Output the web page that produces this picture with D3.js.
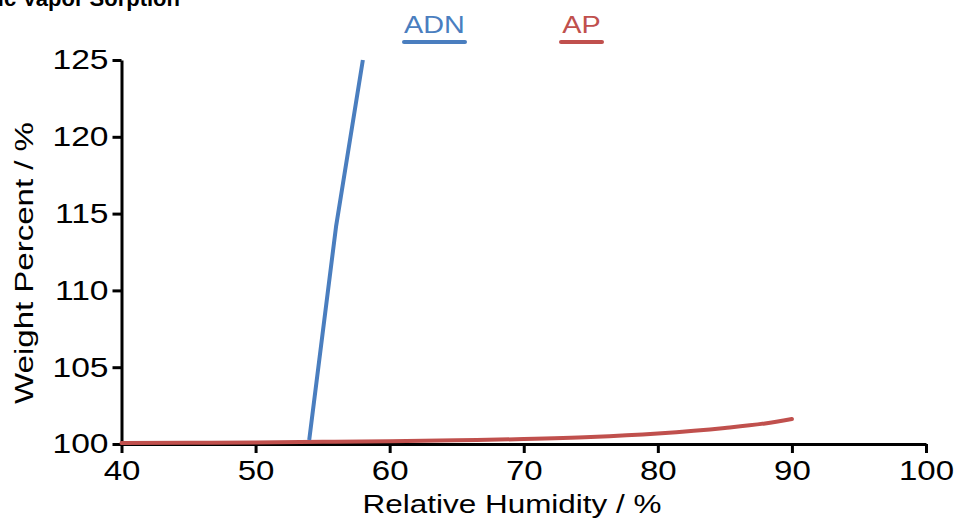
<!DOCTYPE html>
<html lang="en">
<head>
    <meta charset="UTF-8">
    <title>Vapor Sorption</title>
    <script src="https://d3js.org/d3.v7.min.js"></script>
    <style>
        body { margin: 0; background: #fff; }
        text { font-family: "Liberation Sans", Arial, sans-serif; }
    </style>
</head>
<body>
<svg id="chart"></svg>

<script>
    // Values
    let adnHumidity = [54, 56, 58];
    let adnWeight = [100.26, 114.15, 125];

    let apHumidity = [40, 45, 50, 55, 60, 65, 70, 75, 80, 85, 88, 90];
    let apWeight = [100.06, 100.08, 100.1, 100.14, 100.18, 100.24, 100.32, 100.45, 100.68, 101.04, 101.34, 101.63];

    let xTicks = [40, 50, 60, 70, 80, 90, 100];
    let yTicks = [100, 105, 110, 115, 120, 125];

    let seriesNames = ["ADN", "AP"];
    let colour = ["#4a7ebf", "#c0504d"];

    let width = 958,
        height = 520;

    let svg = d3.select("#chart")
        .attr("width", width)
        .attr("height", height);

    // Scales
    let x = d3.scaleLinear().domain([40, 100]).range([121.5, 926]);
    let y = d3.scaleLinear().domain([100, 125]).range([444, 60]);

    // Title, cut off at top left as in the source
    svg.append("text")
        .attr("x", 180)
        .attr("y", 6)
        .attr("text-anchor", "end")
        .attr("font-weight", "bold")
        .attr("font-size", 22)
        .attr("fill", "#000")
        .text("Dynamic Vapor Sorption");

    // Axes
    let xAxis = svg.append("g")
        .attr("transform", "translate(0," + y(100) + ")")
        .call(d3.axisBottom(x).tickValues(xTicks).tickSize(9).tickSizeOuter(0).tickPadding(7));

    let yAxis = svg.append("g")
        .attr("transform", "translate(" + x(40) + ",0)")
        .call(d3.axisLeft(y).tickValues(yTicks).tickSize(9).tickSizeOuter(0).tickPadding(4));

    [xAxis, yAxis].forEach(function (ax) {
        ax.select(".domain").attr("stroke", "#000").attr("stroke-width", 3);
        ax.selectAll(".tick line").attr("stroke", "#000").attr("stroke-width", 3);
        ax.selectAll(".tick text")
            .attr("font-size", 28)
            .attr("fill", "#000")
            .attr("font-family", "'Liberation Sans', Arial, sans-serif");
    });

    // stretch tick labels a little, the source font is wider than Arial
    xAxis.selectAll(".tick text").each(function () {
        let t = d3.select(this);
        let ty = +t.attr("y");
        t.attr("y", 0).attr("transform", "translate(0," + ty + ") scale(1.18,1)");
    });
    yAxis.selectAll(".tick text").each(function () {
        let t = d3.select(this);
        let tx = +t.attr("x");
        t.attr("x", 0).attr("transform", "translate(" + tx + ",0) scale(1.2,1)");
    });

    // Lines
    let adn = adnHumidity.map(function (d, i) { return [d, adnWeight[i]]; });
    let ap = apHumidity.map(function (d, i) { return [d, apWeight[i]]; });

    let lineLinear = d3.line()
        .x(function (d) { return x(d[0]); })
        .y(function (d) { return y(d[1]); });

    let lineSmooth = d3.line()
        .curve(d3.curveMonotoneX)
        .x(function (d) { return x(d[0]); })
        .y(function (d) { return y(d[1]); });

    svg.append("path")
        .attr("d", lineSmooth(ap))
        .attr("fill", "none")
        .attr("stroke", colour[1])
        .attr("stroke-width", 4)
        .attr("stroke-linecap", "round");

    svg.append("path")
        .attr("d", lineLinear(adn))
        .attr("fill", "none")
        .attr("stroke", colour[0])
        .attr("stroke-width", 4)
        .attr("stroke-linejoin", "round");

    // Axis titles
    svg.append("text")
        .attr("transform", "translate(512,513) scale(1.21,1)")
        .attr("text-anchor", "middle")
        .attr("font-size", 26)
        .attr("fill", "#000")
        .text("Relative Humidity / %");

    svg.append("text")
        .attr("transform", "translate(33,263) rotate(-90) scale(1.27,1)")
        .attr("text-anchor", "middle")
        .attr("font-size", 26)
        .attr("fill", "#000")
        .text("Weight Percent / %");

    // Legend: coloured label with an underline
    let legendX = [434.5, 581.5];
    let legendW = [65, 45];

    let legend = svg.selectAll(".legend")
        .data(seriesNames)
        .enter().append("g")
        .attr("class", "legend")
        .attr("transform", function (d, i) { return "translate(" + legendX[i] + ",0)"; });

    legend.append("text")
        .attr("transform", "translate(0,33) scale(1.2,1)")
        .attr("text-anchor", "middle")
        .attr("font-size", 24)
        .attr("fill", function (d, i) { return colour[i]; })
        .text(function (d) { return d; });

    legend.append("line")
        .attr("x1", function (d, i) { return -legendW[i] / 2 + 2; })
        .attr("x2", function (d, i) { return legendW[i] / 2 - 2; })
        .attr("y1", 42)
        .attr("y2", 42)
        .attr("stroke", function (d, i) { return colour[i]; })
        .attr("stroke-width", 4)
        .attr("stroke-linecap", "round");
</script>
</body>
</html>
